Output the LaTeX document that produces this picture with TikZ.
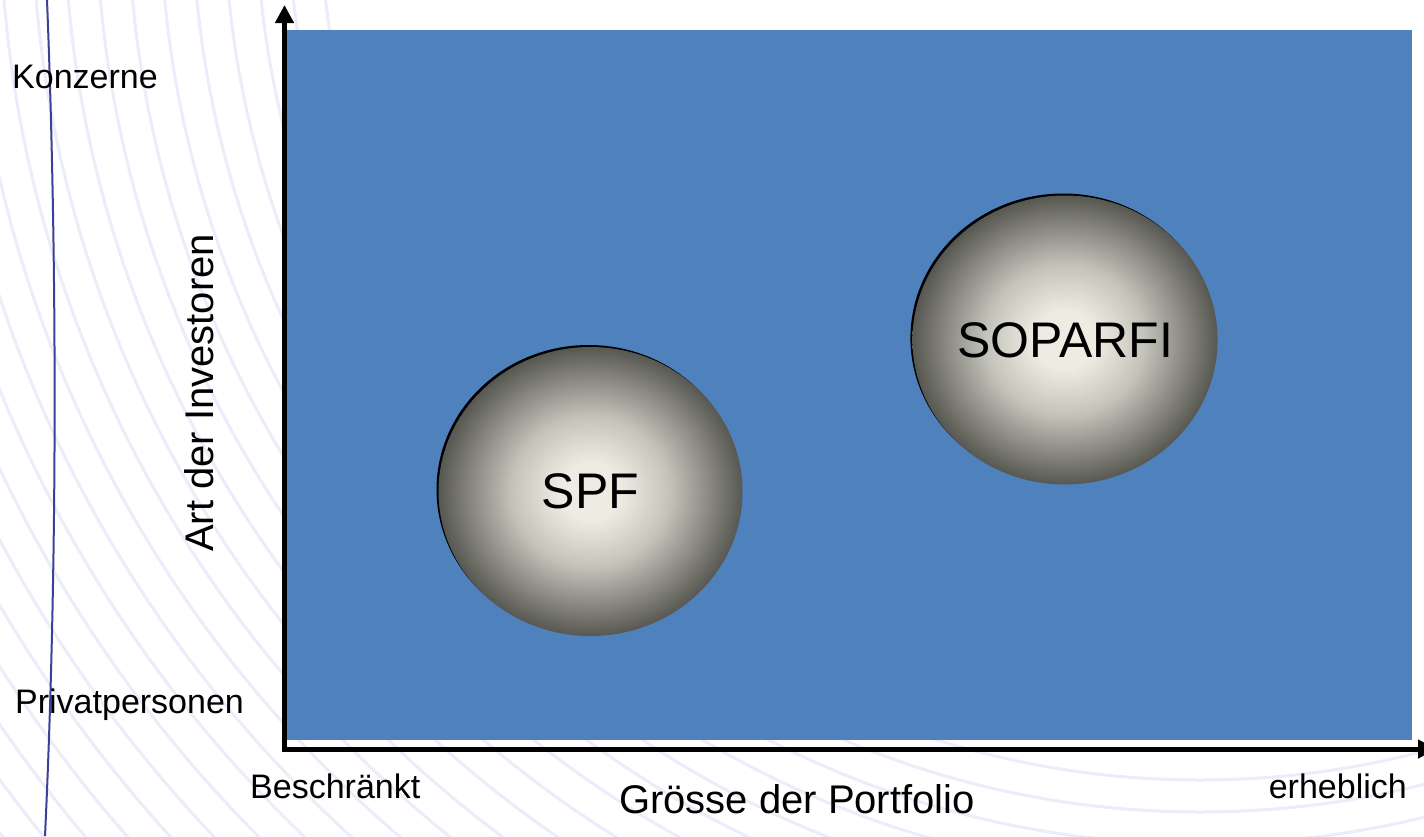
\documentclass[tikz,border=0pt]{standalone}
\usepackage{fontspec}
\setmainfont{Liberation Sans}
\usetikzlibrary{arrows.meta,shapes.geometric,shadows}

\definecolor{chartblue}{RGB}{79,129,189}
\definecolor{ballouter}{RGB}{88,88,82}
\definecolor{ballmid}{RGB}{196,195,186}
\definecolor{ballinner}{RGB}{238,236,226}
\definecolor{swirl}{RGB}{236,236,250}
\definecolor{rimblue}{RGB}{60,64,152}

\pgfdeclareradialshading{ballshade}{\pgfpoint{0bp}{0bp}}{%
  color(0bp)=(ballinner); color(5bp)=(ballinner); color(13bp)=(ballmid);
  color(25bp)=(ballouter); color(50bp)=(ballouter)}

\tikzset{
  axis/.style={line width=5pt,-{Triangle[width=18pt,length=18pt]}},
  ball/.style={ellipse,minimum width=304pt,minimum height=289pt,inner sep=0pt,
    shading=ballshade,
    drop shadow={shadow xshift=-2pt,shadow yshift=2pt,fill=black,opacity=1},
    font=\fontsize{50}{60}\selectfont},
  tick/.style={font=\fontsize{34}{40}\selectfont,inner sep=0pt},
  axistitle/.style={font=\fontsize{40}{48}\selectfont,inner sep=0pt}
}

\begin{document}
\begin{tikzpicture}[x=1pt,y=-1pt]
  \useasboundingbox (0,0) rectangle (1424,836);
  \fill[white] (0,0) rectangle (1424,836);
  \begin{scope}
    \clip (0,0) rectangle (1424,836);
    \foreach \r in {880,912,...,1640}
      \draw[swirl,line width=3pt] (1200,-100) circle [radius=\r];
  \end{scope}
  \draw[rimblue,line width=2pt] (47,0) .. controls (57,250) and (58,560) .. (45,836);

  \fill[chartblue] (287,30) rectangle (1412,740);

  \coordinate (origin) at (284.5,749);
  \coordinate (ytop) at (284.5,5);
  \coordinate (xend) at (1436,749);
  \draw[axis] (origin) -- (ytop);
  \draw[axis] ([xshift=-2.5pt]origin) -- (xend);

  \node[ball] (spf) at (590.5,491.5) {SPF};
  \node[ball] (soparfi) at (1065,340) {SOPARFI};

  \node[tick,anchor=base west] (konzerne) at (12,88) {Konzerne};
  \node[tick,anchor=base west] (privat) at (15,713) {Privatpersonen};
  \node[tick,anchor=base west] (beschraenkt) at (250,798) {Beschränkt};
  \node[tick,anchor=base east] (erheblich) at (1407,798) {erheblich};
  \node[axistitle,anchor=base] (xtitle) at (797,813) {Grösse der Portfolio};
  \node[axistitle,rotate=90] (ytitle) at (199,393) {Art der Investoren};
\end{tikzpicture}
\end{document}
